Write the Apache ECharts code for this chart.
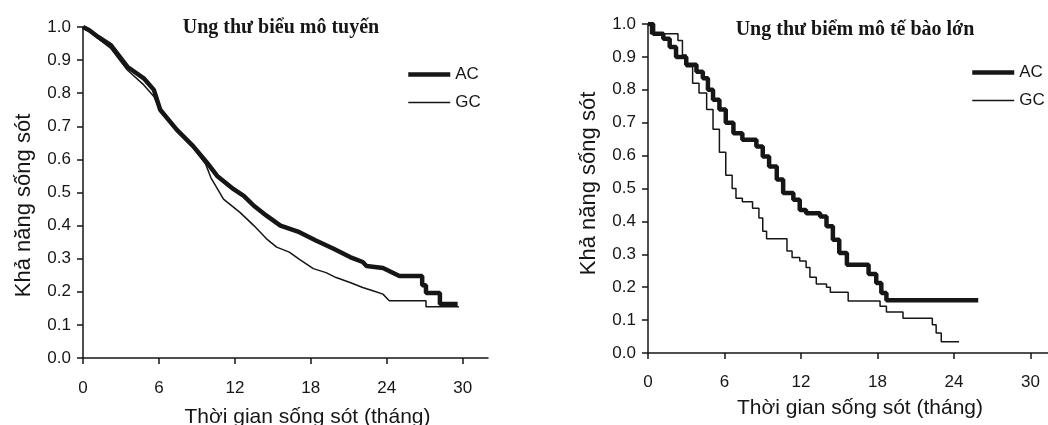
<!DOCTYPE html>
<html>
<head>
<meta charset="utf-8">
<script src="https://cdn.jsdelivr.net/npm/echarts@6/dist/echarts.min.js"></script>
<style>html,body{margin:0;padding:0;background:#fff}#c{width:1048px;height:425px}</style>
</head>
<body>
<div id="c"></div>
<script>
// ---- data (months, survival probability) ----
const titles = ['Ung thư biểu mô tuyến', 'Ung thư biểm mô tế bào lớn'];
const seriesNames = ['AC', 'GC'];
const xTicks = [0, 6, 12, 18, 24, 30];
const yTicks = [0, 0.1, 0.2, 0.3, 0.4, 0.5, 0.6, 0.7, 0.8, 0.9, 1.0];
const xAxisName = 'Thời gian sống sót (tháng)';
const yAxisName = 'Khả năng sống sót';

// Panel 1: adenocarcinoma
const adenoAC = [[0,1.0],[0.5,0.99],[1.2,0.97],[2.2,0.945],[3.5,0.88],[4.8,0.845],[5.6,0.81],[6.1,0.75],[7.4,0.69],[8.7,0.64],[9.8,0.59],[10.6,0.55],[11.9,0.51],[12.7,0.49],[13.5,0.46],[14.5,0.43],[15.6,0.40],[17.1,0.38],[18.4,0.355],[19.8,0.33],[21.1,0.305],[22.1,0.29],[22.4,0.278],[23.7,0.272],[25.0,0.248],[26.8,0.248],[26.8,0.22],[27.1,0.22],[27.1,0.196],[28.2,0.196],[28.2,0.163],[29.6,0.163]];
const adenoGC = [[0,1.0],[1.2,0.965],[2.2,0.935],[3.5,0.87],[4.8,0.825],[5.6,0.79],[6.1,0.745],[7.4,0.69],[8.7,0.635],[9.7,0.585],[10.1,0.545],[11.1,0.48],[12.4,0.44],[13.5,0.40],[14.5,0.36],[15.3,0.335],[16.3,0.32],[17.1,0.298],[18.2,0.27],[19.2,0.258],[20.0,0.243],[21.1,0.228],[22.1,0.213],[22.9,0.203],[23.7,0.193],[24.2,0.173],[27.1,0.173],[27.1,0.155],[29.7,0.155]];

// Panel 2: large cell carcinoma (Kaplan-Meier steps: time of event, new survival)
const largeAC = [[0,1.0],[0.4,0.97],[1.2,0.955],[1.7,0.93],[2.2,0.90],[3.0,0.876],[3.8,0.855],[4.3,0.835],[4.7,0.80],[5.1,0.77],[5.6,0.74],[6.1,0.70],[6.7,0.668],[7.4,0.648],[8.5,0.628],[9.0,0.597],[9.5,0.567],[10.1,0.527],[10.6,0.486],[11.4,0.466],[11.9,0.435],[12.4,0.425],[13.5,0.415],[14.0,0.385],[14.5,0.344],[15.0,0.304],[15.6,0.268],[17.3,0.24],[17.9,0.213],[18.3,0.182],[18.7,0.16],[25.9,0.16]];
const largeGC = [[0,1.0],[0.2,0.97],[2.35,0.95],[2.7,0.906],[3.0,0.87],[3.5,0.82],[4.0,0.79],[4.6,0.74],[5.1,0.68],[5.6,0.61],[6.1,0.54],[6.6,0.50],[6.9,0.47],[7.4,0.46],[8.2,0.44],[8.7,0.41],[9.0,0.37],[9.3,0.347],[10.9,0.31],[11.3,0.29],[11.9,0.28],[12.4,0.26],[12.7,0.23],[13.2,0.21],[14.0,0.2],[14.3,0.185],[15.7,0.158],[18.2,0.142],[18.7,0.125],[20.0,0.106],[22.3,0.086],[22.6,0.061],[23.0,0.034],[24.4,0.034]];

// ---- chart ----
const INK = '#161616';
const SANS = '"Liberation Sans", Arial, sans-serif';
const SERIF = '"Liberation Serif", "Times New Roman", serif';
const chart = echarts.init(document.getElementById('c'), null, {renderer: 'canvas'});

function xAx(gridIndex, namePad, nameGap, labelMargin) {
  return {
    type: 'value', gridIndex, min: 0, max: 32,
    name: xAxisName, nameLocation: 'middle', nameGap,
    nameTextStyle: {fontFamily: SANS, fontSize: 21, color: INK, padding: namePad},
    axisLine: {show: true, lineStyle: {color: INK, width: 1.5}},
    axisTick: {show: true, customValues: xTicks, length: 6, lineStyle: {color: INK, width: 1.5}},
    axisLabel: {customValues: xTicks, fontFamily: SANS, fontSize: 17, color: INK, margin: labelMargin},
    splitLine: {show: false}
  };
}
function yAx(gridIndex, namePad) {
  return {
    type: 'value', gridIndex, min: 0, max: 1, interval: 0.1,
    name: yAxisName, nameLocation: 'middle', nameGap: 48, nameRotate: 90,
    nameTextStyle: {fontFamily: SANS, fontSize: 22, color: INK, padding: namePad},
    axisLine: {show: true, lineStyle: {color: INK, width: 1.5}},
    axisTick: {show: true, length: 6, lineStyle: {color: INK, width: 1.5}},
    axisLabel: {fontFamily: SANS, fontSize: 17, color: INK, margin: 12,
      formatter: v => v.toFixed(1)},
    splitLine: {show: false}
  };
}
function line(name, data, xi, thick, step) {
  return {
    type: 'line', name, data, xAxisIndex: xi, yAxisIndex: xi,
    step: step ? 'end' : false, symbol: 'none', showSymbol: false, smooth: false, animation: false,
    lineStyle: {color: INK, width: thick ? 4.5 : 1.5},
    itemStyle: {color: INK}
  };
}
function legend(left, top) {
  return {
    data: seriesNames, orient: 'vertical', left, top, padding: 0,
    itemWidth: 42, itemHeight: 14, itemGap: 11,
    selectedMode: false,
    textStyle: {fontFamily: SANS, fontSize: 17, color: INK},
    itemStyle: {opacity: 0},
    lineStyle: {width: 'inherit', opacity: 1}
  };
}

chart.setOption({
  backgroundColor: '#ffffff',
  animation: false,
  title: [
    {text: titles[0], left: 276, top: 13, textAlign: 'center',
     textStyle: {fontFamily: SERIF, fontWeight: 'bold', fontSize: 20, color: INK}},
    {text: titles[1], left: 850, top: 15, textAlign: 'center',
     textStyle: {fontFamily: SERIF, fontWeight: 'bold', fontSize: 20, color: INK}}
  ],
  legend: [legend(406, 66), legend(970, 64)],
  grid: [
    {left: 83, top: 27, width: 405, height: 331, outerBoundsMode: 'none', containLabel: false},
    {left: 648, top: 24, width: 408, height: 329, outerBoundsMode: 'none', containLabel: false}
  ],
  xAxis: [xAx(0, [0, 0, 0, 44], 49, 22), xAx(1, [0, 0, 0, 16], 45, 21)],
  yAxis: [yAx(0, [0, 26, 0, 0]), yAx(1, [0, 0, 0, 10])],
  series: [
    line('AC', adenoAC, 0, true, false),
    line('GC', adenoGC, 0, false, false),
    line('AC', largeAC, 1, true, true),
    line('GC', largeGC, 1, false, true)
  ]
});
</script>
</body>
</html>
